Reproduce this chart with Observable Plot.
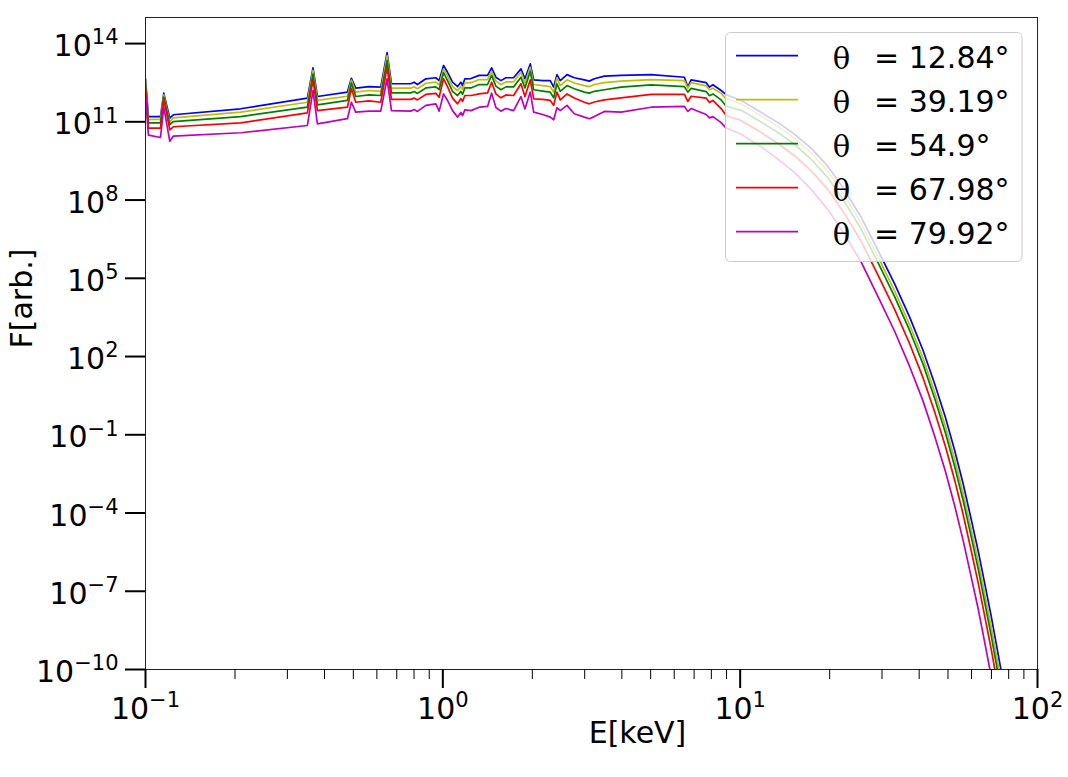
<!DOCTYPE html>
<html><head><meta charset="utf-8">
<script src="https://cdn.jsdelivr.net/npm/d3@7"></script>
<script src="https://cdn.jsdelivr.net/npm/@observablehq/plot@0.6"></script>
<style>body{margin:0;background:#fff} svg{font-family:"DejaVu Sans",sans-serif}</style>
</head><body><div id="chart"></div>
<script>
// Photon energy E [keV]
const energy = [0.1, 0.1023, 0.1123, 0.1152, 0.1207, 0.124, 0.2089, 0.3503, 0.3659, 0.3786,
 0.4776, 0.4926, 0.5094, 0.5648, 0.6183, 0.6494, 0.6719, 0.7802, 0.8004, 0.8217,
 0.8767, 0.9471, 0.9717, 1.0055, 1.037, 1.078, 1.121, 1.150, 1.165, 1.186,
 1.243, 1.325, 1.414, 1.459, 1.508, 1.568, 1.630, 1.730, 1.831, 1.889,
 1.968, 2.021, 2.167, 2.298, 2.359, 2.420, 2.483, 2.616, 2.768, 2.991,
 3.109, 3.232, 3.493, 3.976, 5.015, 6.494, 6.667, 6.839, 7.686, 7.884,
 8.095, 8.630, 8.972,
 10.08, 11.77, 13.40, 15.23, 17.34, 19.74, 22.40, 25.56, 29.08, 33.07,
 37.15, 41.23, 45.11, 49.00, 52.66, 56.22, 59.63, 63.14, 66.47, 69.99,
 75.24, 80.49];

// log10 of F [arb.] for each viewing angle
const log10F_12_84 = [12.65, 11.20, 11.20, 12.10, 11.14, 11.27, 11.50, 11.91, 13.07, 11.97,
 12.14, 12.67, 12.29, 12.35, 12.33, 13.65, 12.46, 12.46, 12.52, 12.43,
 12.65, 12.69, 12.58, 13.16, 12.90, 12.52, 12.35, 12.52, 12.39, 12.65,
 12.66, 12.78, 12.78, 13.07, 12.71, 12.58, 12.69, 12.69, 13.03, 12.65,
 13.22, 12.61, 12.58, 12.58, 12.33, 12.81, 12.58, 12.81, 12.69, 12.61,
 12.56, 12.65, 12.75, 12.78, 12.81, 12.71, 12.33, 12.61, 12.50, 12.33,
 12.42, 12.20, 12.04,
 11.82, 11.36, 10.97, 10.53, 9.98, 9.29, 8.40, 7.33, 6.07, 4.79,
 3.51, 2.23, 0.95, -0.33, -1.60, -2.88, -4.16, -5.44, -6.71, -8.00,
 -9.97, -11.88];
const log10F_39_19 = [12.55, 11.09, 11.09, 12.03, 10.99, 11.15, 11.37, 11.75, 12.97, 11.82,
 11.98, 12.60, 12.14, 12.20, 12.17, 13.54, 12.29, 12.29, 12.34, 12.27,
 12.48, 12.52, 12.42, 13.03, 12.76, 12.35, 12.20, 12.35, 12.24, 12.49,
 12.50, 12.62, 12.62, 12.94, 12.57, 12.43, 12.53, 12.53, 12.90, 12.49,
 13.09, 12.43, 12.39, 12.35, 12.14, 12.69, 12.39, 12.61, 12.49, 12.39,
 12.35, 12.43, 12.50, 12.56, 12.62, 12.58, 12.29, 12.50, 12.38, 12.23,
 12.29, 12.09, 11.88,
 11.69, 11.22, 10.82, 10.36, 9.80, 9.10, 8.19, 7.10, 5.82, 4.52,
 3.22, 1.93, 0.63, -0.67, -1.95, -3.25, -4.54, -5.83, -7.11, -8.41,
 -10.40, -12.32];
const log10F_54_9 = [12.43, 10.96, 10.96, 11.95, 10.89, 11.01, 11.20, 11.56, 12.83, 11.65,
 11.82, 12.49, 11.97, 12.03, 12.01, 13.35, 12.11, 12.11, 12.16, 12.09,
 12.30, 12.34, 12.24, 12.89, 12.58, 12.17, 12.01, 12.17, 12.05, 12.30,
 12.30, 12.43, 12.43, 12.78, 12.37, 12.23, 12.34, 12.34, 12.71, 12.30,
 12.94, 12.23, 12.18, 12.14, 11.92, 12.46, 12.17, 12.39, 12.27, 12.14,
 12.10, 12.17, 12.23, 12.33, 12.42, 12.35, 12.14, 12.28, 12.16, 12.00,
 12.07, 11.84, 11.60,
 11.44, 10.99, 10.59, 10.14, 9.56, 8.85, 7.95, 6.87, 5.60, 4.30,
 3.00, 1.70, 0.39, -0.92, -2.22, -3.52, -4.83, -6.13, -7.43, -8.75,
 -10.74, -12.67];
const log10F_67_98 = [12.28, 10.76, 10.76, 11.86, 10.69, 10.81, 10.96, 11.34, 12.62, 11.43,
 11.56, 12.28, 11.75, 11.80, 11.75, 13.09, 11.86, 11.86, 11.91, 11.84,
 12.05, 12.09, 11.94, 12.66, 12.35, 11.91, 11.69, 11.89, 11.78, 12.01,
 12.01, 12.07, 12.11, 12.52, 12.07, 11.92, 12.03, 12.01, 12.46, 11.97,
 12.61, 11.88, 11.86, 11.82, 11.63, 12.14, 11.84, 12.07, 11.91, 11.75,
 11.69, 11.76, 11.84, 11.92, 12.05, 12.05, 11.78, 11.98, 11.91, 11.74,
 11.82, 11.51, 11.24,
 11.05, 10.59, 10.17, 9.70, 9.12, 8.40, 7.49, 6.41, 5.12, 3.81,
 2.49, 1.18, -0.13, -1.44, -2.74, -4.05, -5.36, -6.67, -7.96, -9.27,
 -11.27, -13.22];
const log10F_79_92 = [11.97, 10.49, 10.40, 11.56, 10.25, 10.45, 10.58, 10.86, 12.20, 10.92,
 11.12, 11.75, 11.37, 11.41, 11.41, 12.65, 11.43, 11.41, 11.47, 11.40,
 11.63, 11.69, 11.41, 12.07, 11.82, 11.43, 11.18, 11.36, 11.24, 11.46,
 11.43, 11.56, 11.59, 12.10, 11.55, 11.41, 11.51, 11.43, 11.97, 11.49,
 12.14, 11.37, 11.28, 11.18, 11.08, 11.54, 11.43, 11.63, 11.31, 11.18,
 11.12, 11.20, 11.40, 11.37, 11.56, 11.59, 11.40, 11.51, 11.28, 11.15,
 11.20, 10.97, 10.76,
 10.52, 10.04, 9.57, 9.06, 8.41, 7.63, 6.70, 5.61, 4.30, 2.97,
 1.62, 0.29, -1.06, -2.40, -3.72, -5.05, -6.37, -7.66, -8.97, -10.30,
 -12.31, -14.26];

const thetaLabels = ["12.84°", "39.19°", "54.9°", "67.98°", "79.92°"];
const seriesLog = [log10F_12_84, log10F_39_19, log10F_54_9, log10F_67_98, log10F_79_92];
const seriesColors = ["#0000ff", "#bfbf00", "#008000", "#ff0000", "#bf00bf"];

const yTickExponents = [-10, -7, -4, -1, 2, 5, 8, 11, 14];
const xMajorTicks = [0.1, 1, 10, 100];
const xMinorTicks = [0.2,0.3,0.4,0.5,0.6,0.7,0.8,0.9, 2,3,4,5,6,7,8,9, 20,30,40,50,60,70,80,90];

const rows = [];
seriesLog.forEach((vals, k) => vals.forEach((v, i) => rows.push({E: energy[i], F: Math.pow(10, v), theta: thetaLabels[k]})));

const expFmt = d => "10^" + String(Math.round(Math.log10(d))).replace("-", "\u2212");

const chart = Plot.plot({
  width: 1068, height: 777,
  marginLeft: 145, marginRight: 31, marginTop: 17, marginBottom: 108,
  style: {fontFamily: "DejaVu Sans", background: "white", color: "black"},
  x: {type: "log", domain: [0.1, 100]},
  y: {type: "log", domain: [1e-10, 1e15]},
  color: {domain: thetaLabels, range: seriesColors},
  marks: [
    Plot.line(rows, {x: "E", y: "F", z: "theta", stroke: "theta", strokeWidth: 1.7, clip: true}),
    Plot.frame({stroke: "#222", strokeWidth: 1}),
    Plot.axisY({ticks: yTickExponents.map(e => Math.pow(10, e)), tickSize: 20, tickPadding: 7, strokeWidth: 2, fontSize: 30, tickFormat: expFmt, label: null}),
    Plot.axisX({ticks: xMinorTicks, tickSize: 10, strokeWidth: 1, tickFormat: () => "", label: null}),
    Plot.axisX({ticks: xMajorTicks, tickSize: 19, tickPadding: 0, strokeWidth: 2, fontSize: 30, tickFormat: expFmt, label: null}),
    Plot.text(["F[arb.]"], {text: d => d, frameAnchor: "left", dx: -123, dy: 5, rotate: -90, fontSize: 30}),
    Plot.text(["E[keV]"], {text: d => d, frameAnchor: "bottom", dx: 46, dy: 73, fontSize: 30})
  ]
});

const ns = "http://www.w3.org/2000/svg";
function supify(el, yOff) {
  const s = el.textContent;
  if (!s || s.indexOf("^") < 0) return;
  const [base, ex] = s.split("^");
  el.textContent = "";
  const t1 = document.createElementNS(ns, "tspan"); t1.textContent = base;
  const t2 = document.createElementNS(ns, "tspan"); t2.textContent = ex;
  t2.setAttribute("font-size", "21"); t2.setAttribute("dy", "-11.7");
  el.appendChild(t1); el.appendChild(t2);
  el.setAttribute("y", yOff);
}
chart.querySelectorAll('g[aria-label="y-axis tick label"] text').forEach(t => supify(t, "12.5"));
chart.querySelectorAll('g[aria-label="x-axis tick label"] text').forEach(t => supify(t, "30.3"));

// Legend
const svg = d3.select(chart);
const lg = svg.append("g").attr("class", "legend");
lg.append("rect").attr("x", 725.5).attr("y", 32.5).attr("width", 296.5).attr("height", 229)
  .attr("rx", 5).attr("fill", "white").attr("fill-opacity", 0.8).attr("stroke", "#cccccc").attr("stroke-width", 1);
thetaLabels.forEach((lab, i) => {
  const y = 55.7 + i * 44;
  lg.append("line").attr("x1", 736).attr("x2", 798).attr("y1", y).attr("y2", y)
    .attr("stroke", seriesColors[i]).attr("stroke-width", 1.7);
  lg.append("text").attr("x", 841.5).attr("y", y + 13.5).attr("text-anchor", "middle")
    .attr("font-family", "DejaVu Serif").attr("font-size", 29).text("θ");
  lg.append("text").attr("x", 874).attr("y", y + 12).attr("text-anchor", "start").attr("font-family", "DejaVu Sans")
    .attr("font-size", 30).text("= " + lab);
});

document.getElementById("chart").appendChild(chart);
</script></body></html>
